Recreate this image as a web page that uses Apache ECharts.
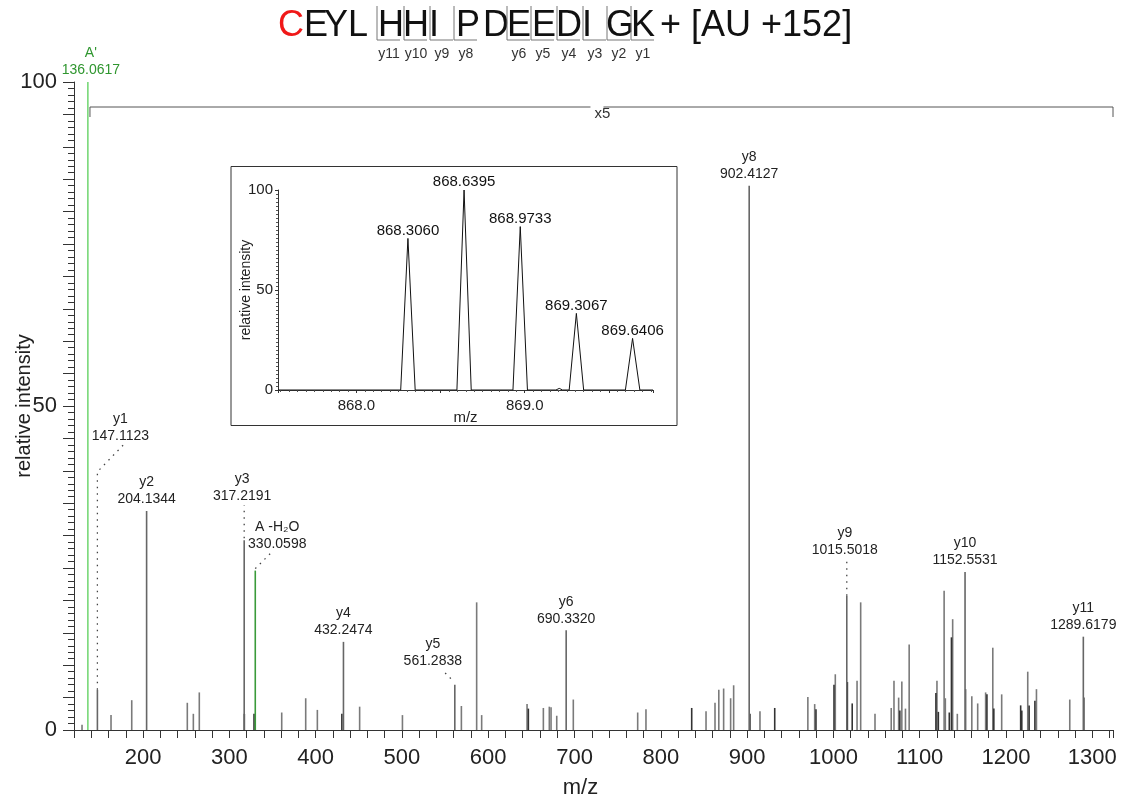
<!DOCTYPE html>
<html>
<head>
<meta charset="utf-8">
<title>CEYLHHIPDEEDIGK + [AU +152]</title>
<script src="https://cdn.jsdelivr.net/npm/echarts@6/dist/echarts.min.js"></script>
<style>
  html, body { margin: 0; padding: 0; background: #fff; }
  #main { width: 1128px; height: 798px; }
</style>
</head>
<body>
<div id="main"></div>
<script>
// 肽段序列和碎片标记
var peptide = ['C', 'E', 'Y', 'L', 'H', 'H', 'I', 'P', 'D', 'E', 'E', 'D', 'I', 'G', 'K'];
var modText = '+ [AU +152]';
var fragNames = ['y11', 'y10', 'y9', 'y8', 'y6', 'y5', 'y4', 'y3', 'y2', 'y1'];

// 已标注的离子
var ionNames = ["A'", 'y1', 'y2', 'y3', 'A-H2O', 'y4', 'y5', 'y6', 'y8', 'y9', 'y10', 'y11'];
var ionMz = [136.0617, 147.1123, 204.1344, 317.2191, 330.0598, 432.2474, 561.2838, 690.3320, 902.4127, 1015.5018, 1152.5531, 1289.6179];
var ionIntensity = [100, 6.2, 33.8, 29.3, 24.6, 13.6, 7.0, 15.4, 84.0, 20.7, 24.4, 14.4];

// 其他峰 (灰色)
var greyPeaks = [
  [129.3, 0.8], [162.9, 2.3], [186.9, 4.6], [251.3, 4.2], [258.3, 2.5], [265.2, 5.8],
  [360.7, 2.7], [388.5, 4.9], [402.0, 3.1], [451.0, 3.6], [500.6, 2.3], [568.9, 3.7],
  [586.6, 19.7], [592.4, 2.3], [645.0, 4.0], [663.9, 3.4], [670.8, 3.6], [672.8, 3.5],
  [679.4, 2.2], [698.6, 4.7], [773.2, 2.7], [782.8, 3.2], [852.4, 2.9], [862.8, 4.2],
  [867.2, 6.2], [872.8, 6.4], [880.9, 4.9], [884.4, 6.9], [914.9, 2.9], [970.4, 5.1],
  [978.3, 4.0], [1002.2, 8.6], [1027.4, 7.6], [1031.6, 19.7], [1048.2, 2.5], [1067.0, 3.4],
  [1070.2, 7.6], [1075.6, 5.0], [1079.3, 7.5], [1083.5, 3.3], [1087.8, 13.2], [1120.0, 7.6],
  [1128.3, 21.5], [1129.7, 4.9], [1138.2, 17.1], [1143.6, 2.5], [1153.3, 6.3], [1160.4, 5.2],
  [1167.2, 4.1], [1176.4, 5.8], [1184.7, 12.7], [1195.0, 5.5], [1225.2, 9.0], [1235.3, 6.3],
  [1273.9, 4.7]
];

// 其他峰 (深色)
var darkPeaks = [
  [317.4, 2.5], [328.6, 2.5], [430.4, 2.5], [646.5, 3.3], [835.8, 3.4], [903.3, 2.5],
  [932.0, 3.4], [979.8, 3.2], [1000.7, 7.0], [1016.2, 7.4], [1021.8, 4.1], [1077.0, 3.0],
  [1118.8, 5.7], [1121.6, 2.8], [1134.3, 2.7], [1136.8, 14.3], [1177.9, 5.5], [1185.9, 3.3],
  [1217.0, 3.8], [1218.3, 3.0], [1226.8, 3.8], [1233.5, 4.5], [1290.2, 5.0]
];

// x5 放大区间
var zoomRange = [138.5, 1324];
var zoomLabel = 'x5';

// 插图: 同位素峰
var isoMz = [868.3060, 868.6395, 868.9733, 869.3067, 869.6406];
var isoIntensity = [75.8, 100, 81.7, 38.3, 25.8];
var isoProfile = [
  [867.534, 0], [868.263, 0], [868.306, 75.8], [868.349, 0],
  [868.597, 0], [868.6395, 100], [868.682, 0],
  [868.930, 0], [868.9733, 81.7], [869.016, 0],
  [869.185, 0], [869.205, 0.8], [869.225, 0],
  [869.264, 0], [869.3067, 38.3], [869.350, 0],
  [869.598, 0], [869.6406, 25.8], [869.684, 0],
  [869.762, 0]
];

var FONT = '"Liberation Sans", Arial, sans-serif';
var TXT = '#222';

// 标题字母位置
var titleX = [291, 316, 336, 358, 391, 416, 434, 468, 496, 519, 544, 569, 587, 620, 643];
var fragX = [377, 404, 430, 454, 507, 531, 557, 583, 607, 631];

// 标签位置微调 (像素)
var ionLayout = {
  "A'": { dx: 3, dy: -20 },
  'y1': { dx: 23, dy: -262, leader: [[0, 0], [0, -218], [27, -246]] },
  'y3': { dx: -2, dy: -52, leader: [[0, -2], [0, -35]] },
  'A-H2O': { dx: 22, dy: -35, leader: [[0, -2], [15, -17]] },
  'y5': { dx: -22, dy: -32, leader: [[-4, -6], [-12, -14]] },
  'y9': { dx: -2, dy: -54, leader: [[0, 0], [0, -38]] }
};

var myChart = echarts.init(document.getElementById('main'));

function stick(color, width) {
  return function (params, api) {
    var base = api.coord([api.value(0), 0]);
    var top = api.coord([api.value(0), api.value(1)]);
    return {
      type: 'line',
      shape: { x1: base[0], y1: base[1], x2: top[0], y2: top[1] },
      style: { stroke: color, lineWidth: width }
    };
  };
}

function ionItem(params, api) {
  var i = api.value(2);
  var name = ionNames[i];
  var base = api.coord([api.value(0), 0]);
  var top = api.coord([api.value(0), api.value(1)]);
  var lineColor = '#666';
  if (name === "A'") lineColor = '#78d878';
  else if (name === 'A-H2O') lineColor = '#3a9a3a';
  var lay = ionLayout[name] || { dx: 0, dy: -20 };
  var children = [{
    type: 'line',
    shape: { x1: base[0], y1: base[1], x2: top[0], y2: top[1] },
    style: { stroke: lineColor, lineWidth: 1.6 }
  }];
  if (lay.leader) {
    children.push({
      type: 'polyline',
      shape: { points: lay.leader.map(function (p) { return [top[0] + p[0], top[1] + p[1]]; }) },
      style: { stroke: '#444', lineWidth: 1.3, lineDash: [1.5, 5], fill: null }
    });
  }
  var label = (name === 'A-H2O' ? 'A -H\u2082O' : name) + '\n' + ionMz[i].toFixed(4);
  children.push({
    type: 'text',
    x: top[0] + lay.dx,
    y: top[1] + lay.dy,
    style: {
      text: label, fill: name === "A'" ? '#2f962f' : TXT,
      fontSize: 14, fontFamily: FONT, lineHeight: 17,
      align: 'center', verticalAlign: 'middle'
    }
  });
  return { type: 'group', children: children };
}

function bracketItem(params, api) {
  var x1 = api.coord([api.value(0), 100])[0];
  var x2 = api.coord([api.value(1), 100])[0];
  var mid = (x1 + x2) / 2;
  var y = 107;
  return {
    type: 'group',
    children: [
      { type: 'polyline', shape: { points: [[x1, y + 10], [x1, y], [mid - 11, y]] }, style: { stroke: '#555', lineWidth: 1, fill: null } },
      { type: 'polyline', shape: { points: [[mid + 2, y], [x2, y], [x2, y + 10]] }, style: { stroke: '#555', lineWidth: 1, fill: null } },
      { type: 'text', x: mid + 1, y: y + 7, style: { text: zoomLabel, fill: '#333', fontSize: 15, fontFamily: FONT, align: 'center', verticalAlign: 'middle' } }
    ]
  };
}

// 标题
var graphics = [];
peptide.forEach(function (ch, i) {
  graphics.push({
    type: 'text', x: titleX[i], y: 26,
    style: { text: ch, fill: i === 0 ? '#f01818' : '#111', fontSize: 36, fontFamily: FONT, align: 'center', verticalAlign: 'middle' }
  });
});
graphics.push({
  type: 'text', x: 660, y: 26,
  style: { text: modText, fill: '#111', fontSize: 36, fontFamily: FONT, align: 'left', verticalAlign: 'middle' }
});
fragNames.forEach(function (f, i) {
  var x = fragX[i];
  graphics.push({
    type: 'polyline', shape: { points: [[x, 6], [x, 40], [x + 23, 40]] },
    style: { stroke: '#777', lineWidth: 1, fill: null }
  });
  graphics.push({
    type: 'text', x: x + 12, y: 54,
    style: { text: f, fill: '#333', fontSize: 14, fontFamily: FONT, align: 'center', verticalAlign: 'middle' }
  });
});
// 插图边框
graphics.push({
  type: 'rect', shape: { x: 231, y: 166.5, width: 446, height: 259 },
  style: { stroke: '#333', lineWidth: 1, fill: null }
});

var option = {
  backgroundColor: '#fff',
  animation: false,
  textStyle: { fontFamily: FONT },
  graphic: graphics,
  grid: [
    { left: 74, top: 82, width: 1039, height: 648, outerBoundsMode: 'none', containLabel: false },
    { left: 278, top: 190, width: 375, height: 200, outerBoundsMode: 'none', containLabel: false }
  ],
  xAxis: [
    {
      type: 'value', gridIndex: 0, min: 120, max: 1324, interval: 20,
      axisLine: { onZero: false, lineStyle: { color: '#333' } },
      axisTick: { length: 8, lineStyle: { color: '#333' } },
      axisLabel: {
        formatter: function (v) { return (v % 100 === 0 && v >= 200) ? String(v) : ''; },
        fontSize: 22, color: TXT, margin: 17, fontFamily: FONT
      },
      splitLine: { show: false },
      name: 'm/z', nameLocation: 'middle', nameGap: 47, nameMoveOverlap: false,
      nameTextStyle: { fontSize: 22, color: TXT, fontFamily: FONT, padding: [0, 26, 0, 0] }
    },
    {
      type: 'value', gridIndex: 1, min: 867.534, max: 869.762,
      axisLine: { onZero: false, lineStyle: { color: '#333' } },
      axisTick: { length: 3, lineStyle: { color: '#333' } },
      minorTick: { show: true, splitNumber: 10, length: 2, lineStyle: { color: '#555' } },
      axisLabel: {
        formatter: function (v) { return Math.abs(v - Math.round(v)) < 1e-6 ? v.toFixed(1) : ''; },
        fontSize: 15, color: TXT, margin: 8, fontFamily: FONT
      },
      splitLine: { show: false },
      name: 'm/z', nameLocation: 'middle', nameGap: 20, nameMoveOverlap: false,
      nameTextStyle: { fontSize: 15, color: TXT, fontFamily: FONT }
    }
  ],
  yAxis: [
    {
      type: 'value', gridIndex: 0, min: 0, max: 100, interval: 5,
      axisLine: { show: true, lineStyle: { color: '#333' } },
      axisTick: { show: true, length: 11, lineStyle: { color: '#333' } },
      minorTick: { show: true, splitNumber: 5, length: 6, lineStyle: { color: '#333' } },
      axisLabel: {
        formatter: function (v) { return v % 50 === 0 ? String(v) : ''; },
        fontSize: 22, color: TXT, margin: 17, fontFamily: FONT
      },
      splitLine: { show: false },
      name: 'relative intensity', nameLocation: 'middle', nameGap: 40, nameMoveOverlap: false,
      nameTextStyle: { fontSize: 20, color: TXT, fontFamily: FONT }
    },
    {
      type: 'value', gridIndex: 1, min: 0, max: 100, interval: 50,
      axisLine: { show: true, lineStyle: { color: '#333' } },
      axisTick: { show: true, length: 3, lineStyle: { color: '#333' } },
      minorTick: { show: true, splitNumber: 25, length: 2, lineStyle: { color: '#555' } },
      axisLabel: { fontSize: 15, color: TXT, margin: 5, fontFamily: FONT },
      splitLine: { show: false },
      name: 'relative intensity', nameLocation: 'middle', nameGap: 25, nameMoveOverlap: false,
      nameTextStyle: { fontSize: 14, color: TXT, fontFamily: FONT }
    }
  ],
  series: [
    {
      type: 'custom', name: 'bracket', xAxisIndex: 0, yAxisIndex: 0, clip: false, silent: true,
      renderItem: bracketItem, data: [zoomRange]
    },
    {
      type: 'custom', name: 'grey', xAxisIndex: 0, yAxisIndex: 0, silent: true,
      renderItem: stick('#7a7a7a', 1.6), data: greyPeaks
    },
    {
      type: 'custom', name: 'dark', xAxisIndex: 0, yAxisIndex: 0, silent: true,
      renderItem: stick('#333', 1.6), data: darkPeaks
    },
    {
      type: 'custom', name: 'ions', xAxisIndex: 0, yAxisIndex: 0, clip: false, silent: true,
      renderItem: ionItem,
      data: ionMz.map(function (m, i) { return [m, ionIntensity[i], i]; })
    },
    {
      type: 'line', name: 'profile', xAxisIndex: 1, yAxisIndex: 1, silent: true,
      showSymbol: false, symbol: 'none',
      lineStyle: { color: '#111', width: 1 },
      data: isoProfile
    },
    {
      type: 'scatter', name: 'isoLabels', xAxisIndex: 1, yAxisIndex: 1, silent: true,
      symbolSize: 1, itemStyle: { color: 'rgba(0,0,0,0)' },
      label: {
        show: true, position: 'top', distance: 0,
        formatter: function (p) { return p.value[0].toFixed(4); },
        fontSize: 15, color: '#111', opacity: 1, fontFamily: FONT
      },
      data: isoMz.map(function (m, i) { return [m, isoIntensity[i]]; })
    }
  ]
};

myChart.setOption(option);
</script>
</body>
</html>
